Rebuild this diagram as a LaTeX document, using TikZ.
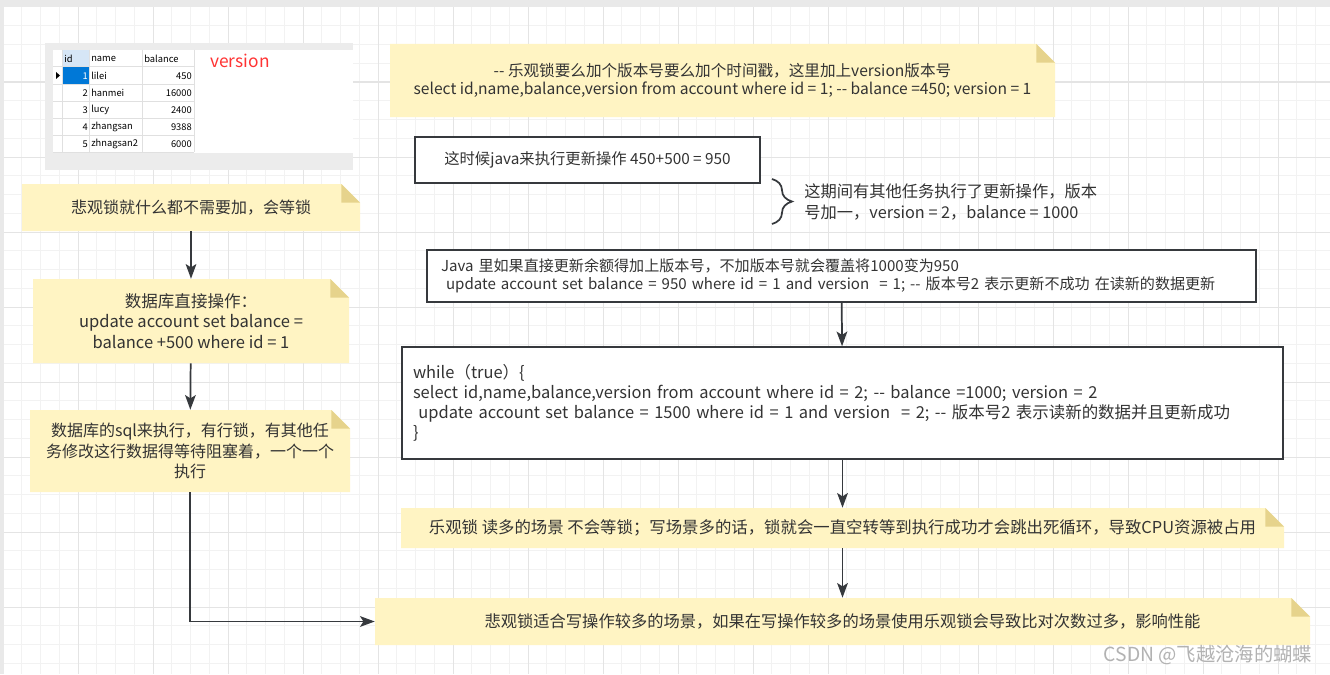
\documentclass[tikz,border=0pt]{standalone}
\usepackage{fontspec}
\setmainfont{Noto Sans CJK SC}[Ligatures=TeXOff]
\usetikzlibrary{arrows.meta,positioning,decorations.pathreplacing}
\definecolor{ink}{RGB}{51,51,51}
\definecolor{edge}{RGB}{54,57,61}
\definecolor{notebg}{RGB}{255,244,195}
\definecolor{notefold}{RGB}{230,211,140}
\definecolor{gridlo}{RGB}{242,242,242}
\definecolor{gridhi}{RGB}{228,228,228}
\definecolor{frame}{RGB}{233,233,233}
\definecolor{shot}{RGB}{236,236,236}
\definecolor{cellline}{RGB}{224,224,224}
\definecolor{hdrblue}{RGB}{214,230,246}
\definecolor{selblue}{RGB}{0,120,215}
\definecolor{verred}{RGB}{255,51,51}
\definecolor{wmark}{RGB}{178,178,178}
\newcommand\fsz[2]{\fontsize{#1}{#2}\selectfont}
\tikzset{
  note/.style={inner sep=0pt,align=center,text=ink,
    path picture={
      \fill[notebg] (path picture bounding box.south west)
        -- (path picture bounding box.north west)
        -- ([xshift=-14pt]path picture bounding box.north east)
        -- ([yshift=-14pt]path picture bounding box.north east)
        -- (path picture bounding box.south east) -- cycle;
      \fill[notefold] ([xshift=-14pt]path picture bounding box.north east)
        -- ([xshift=-14pt,yshift=-14pt]path picture bounding box.north east)
        -- ([yshift=-14pt]path picture bounding box.north east) -- cycle;}},
  box/.style={draw=edge,line width=1.1pt,fill=white,text=ink,inner sep=0pt},
  arr/.style={-{Stealth[length=11pt,width=8pt,inset=2.5pt]},line width=1.3pt,draw=edge},
  cell/.style={font=\fsz{7}{8},inner sep=0pt},
}

\begin{document}
\begin{tikzpicture}[x=0.75pt,y=-0.75pt]
  \useasboundingbox (0,0) rectangle (1330,674);
  % canvas
  \fill[white] (0,0) rectangle (1330,674);
  \foreach \i in {0,...,70} \draw[gridlo,line width=0.75pt] ({3+18.75*\i},7) -- ({3+18.75*\i},674);
  \foreach \j in {0,...,35} \draw[gridlo,line width=0.75pt] (0,{7+18.75*\j}) -- (1330,{7+18.75*\j});
  \foreach \i in {0,...,17} \draw[gridhi,line width=0.75pt] ({3+75*\i},7) -- ({3+75*\i},674);
  \foreach \j in {0,...,8} \draw[gridhi,line width=0.75pt] (0,{7+75*\j}) -- (1330,{7+75*\j});
  \fill[frame] (0,0) rectangle (1330,7);
  \fill[frame] (0,0) rectangle (4,674);

  % table screenshot
  \fill[shot] (45,43) rectangle (353,170);
  \fill[white] (53,50) rectangle (353,153);
  \fill[hdrblue] (62,50) rectangle (89,67);
  \fill[selblue] (62,67) rectangle (89,84);
  \foreach \y in {67,84,101,118,135,152} \draw[cellline,line width=0.75pt] (53,\y) -- (194,\y);
  \foreach \x in {62,89,142,194} \draw[cellline,line width=0.75pt] (\x,50) -- (\x,152);
  \fill (56,72) -- (60,75.5) -- (56,79) -- cycle;
  \node[cell,anchor=west] (hid) at (64,59) {id};
  \node[cell,anchor=west] (hname) at (91,59) {name};
  \node[cell,anchor=west] (hbal) at (144,59) {balance};
  \foreach \i/\nm/\bal/\c in {1/lilei/450/white,2/hanmei/16000/black,3/lucy/2400/black,
      4/zhangsan/9388/black,5/zhnagsan2/6000/black}{
    \node[cell,anchor=east,text=\c] (id\i) at (88,{59+17*\i}) {\i};
    \node[cell,anchor=west] (nm\i) at (91,{59+17*\i}) {\nm};
    \node[cell,anchor=east] (bal\i) at (192,{59+17*\i}) {\bal};
  }
  \node[text=verred,font=\fsz{13}{15}] (ver) at (240,61) {version};

  % optimistic lock
  \node[note,minimum width=498.75pt,minimum height=54.75pt,font=\fsz{11.7}{13.5}] (sel) at (722.5,80.5)
    {-- 乐观锁要么加个版本号要么加个时间戳，这里加上version版本号\\
     select id,name,balance,version from account where id = 1; -- balance =450; version = 1};
  \node[box,minimum width=258.75pt,minimum height=34.5pt,font=\fsz{11.5}{13.5}] (calc) at (587.5,160)
    {这时候java来执行更新操作 450+500 = 950};
  \coordinate (brtop) at (772,179);
  \coordinate (brbot) at (772,224);
  \draw[edge,line width=1.3pt,decorate,decoration={brace,amplitude=15pt}] (brtop) -- (brbot);
  \node[anchor=west,align=left,text=ink,inner sep=0pt,font=\fsz{12.2}{15.75}] (other) at (804,201.5)
    {这期间有其他任务执行了更新操作，版本\\号加一，version = 2，balance = 1000};
  \node[box,text width=600.75pt,inner xsep=10.5pt,minimum height=39pt,align=left,font=\fsz{11.3}{13.5}] (java) at (841.5,276)
    {Java 里如果直接更新余额得加上版本号，不加版本号就会覆盖将1000变为950\\
     ~update account set balance = 950 where id = 1 and version\ \ = 1; -- 版本号2 表示更新不成功 在读新的数据更新};
  \node[box,text width=644.25pt,inner xsep=8.25pt,minimum height=84pt,align=left,font=\fsz{12.35}{15}] (loop) at (842.5,403)
    {while（true）\{\\
     select id,name,balance,version from account where id = 2; -- balance =1000; version = 2\\
     ~update account set balance = 1500 where id = 1 and version\ \ = 2; -- 版本号2 表示读新的数据并且更新成功\\
     \}};
  \node[note,minimum width=662.25pt,minimum height=30pt,font=\fsz{12.3}{15}] (optn) at (842.5,528)
    {乐观锁 读多的场景 不会等锁；写场景多的话，锁就会一直空转等到执行成功才会跳出死循环，导致CPU资源被占用};
  \node[note,minimum width=701.25pt,minimum height=35.25pt,font=\fsz{12.2}{15}] (pesn) at (842.5,621.5)
    {悲观锁适合写操作较多的场景，如果在写操作较多的场景使用乐观锁会导致比对次数过多，影响性能};
  \draw[arr] (java) -- (loop);
  \draw[arr] (loop) -- (optn);
  \draw[arr] (optn) -- (pesn);

  % pessimistic lock
  \node[note,minimum width=253.5pt,minimum height=35.25pt,font=\fsz{12}{15.5}] (l1) at (191,207.5)
    {悲观锁就什么都不需要加，会等锁};
  \node[note,minimum width=237pt,minimum height=63pt,font=\fsz{12.4}{15.5}] (l2) at (191,321)
    {数据库直接操作：\\update account set balance =\\balance +500 where id = 1};
  \node[note,minimum width=240pt,minimum height=61.5pt,font=\fsz{12}{15.5}] (l3) at (190,451)
    {数据库的sql来执行，有行锁，有其他任\\务修改这行数据得等待阻塞着，一个一个\\执行};
  \draw[arr] (l1) -- (l2);
  \draw[arr] (l2) -- (l3);
  \draw[arr] (l3) |- (pesn);

  \node[text=wmark,font=\fsz{14.5}{16}] (csdn) at (1208,655) {CSDN @飞越沧海的蝴蝶};
\end{tikzpicture}
\end{document}
